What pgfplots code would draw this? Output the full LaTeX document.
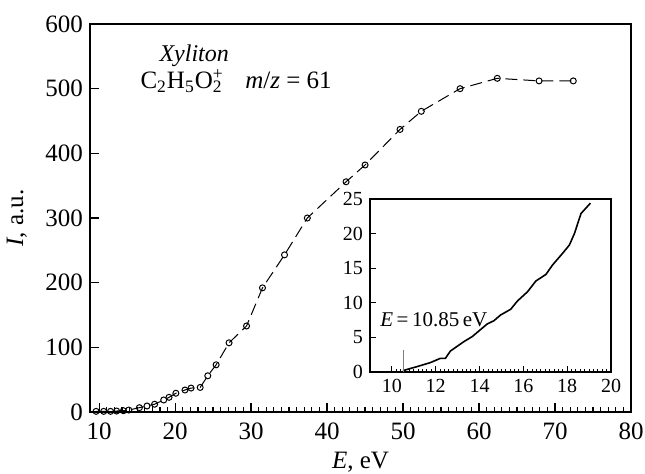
\documentclass[border=0pt]{standalone}
\usepackage{fontspec}
\setmainfont{Liberation Serif}
\usepackage{pgfplots}
\pgfplotsset{compat=1.18}

\pgfplotstableread{
x y
9.6 1
10.6 1
11.5 1
12.3 1.5
13.2 2
13.9 3
15.3 6.7
16.3 9.3
17.3 12
18.5 18.6
19.2 22.7
20.1 29
21.3 34
22.1 37
23.3 38
24.3 56
25.4 73
27.1 107
29.4 133
31.5 192
34.4 243
37.4 300
42.5 356
45.0 382
49.6 437
52.4 465
57.5 500
62.4 516
67.9 512
72.4 512
}\maindata

\pgfplotstableread{
x y
10.5 0.2
11.14 0.77
11.75 1.35
12.21 1.97
12.44 1.97
12.67 3.03
13.28 4.38
13.66 5.1
14.35 6.94
14.66 7.42
14.96 8.24
15.42 9.06
15.73 10.26
16.19 11.6
16.57 13.15
17.03 14.1
17.33 15.46
17.79 17.15
18.1 18.35
18.33 20.0
18.63 22.9
19.06 24.4
}\insetdata

\begin{document}
\begin{tikzpicture}
\begin{axis}[
    name=main,
    scale only axis,
    width=270.5pt, height=194pt,
    xmin=8.8, xmax=80, ymin=0, ymax=600,
    axis line style={line width=1.2pt},
    xtick={10,20,...,80},
    ytick={0,100,...,600},
    minor x tick num=9,
    tick align=inside,
    xtick pos=bottom, ytick pos=left,
    major tick length=4.5pt, minor tick length=2.5pt,
    every tick/.style={black, line width=0.6pt},
    tick label style={font=\fontsize{12.5}{14}\selectfont},
    /pgf/number format/assume math mode=true,
    xticklabel style={yshift=-2pt},
    xlabel={\textit{E}, eV},
    ylabel={\textit{I}, a.u.},
    label style={font=\fontsize{12.5}{14}\selectfont},
    x label style={at={(axis description cs:0.5,0)}, anchor=center, yshift=-25pt},
    y label style={at={(axis description cs:-0.135,0.5)}, anchor=center},
    clip=false,
]
\addplot[black, line width=0.5pt, dash pattern=on 6pt off 3pt,
    mark=o, mark size=1.5pt, mark options={solid, line width=0.5pt}]
    table[x=x, y=y] {\maindata};
\node[anchor=base west, inner sep=0pt, font=\fontsize{12}{14}\selectfont\itshape] at (axis cs:17.9,542) {Xyliton};
\node[anchor=base west, inner sep=0pt, font=\fontsize{12.5}{14}\selectfont] at (axis cs:15.4,500)
    {C\textsubscript{2}H\textsubscript{5}O\rlap{\textsuperscript{+}}\textsubscript{2}};
\node[anchor=base west, inner sep=0pt, font=\fontsize{12.5}{14}\selectfont] at (axis cs:29.2,500)
    {\textit{m}/\textit{z} = 61};
\end{axis}

\begin{axis}[
    at={(main.south west)}, xshift=140pt, yshift=20pt, anchor=south west,
    scale only axis,
    width=120.5pt, height=86.5pt,
    xmin=9, xmax=20, ymin=0, ymax=25,
    axis background/.style={fill=white},
    axis line style={line width=1.2pt},
    xtick={10,12,...,20},
    ytick={0,5,...,25},
    minor x tick num=9,
    tick align=inside,
    xtick pos=bottom, ytick pos=left,
    major tick length=3pt, minor tick length=1.6pt,
    every tick/.style={black, line width=0.5pt},
    tick label style={font=\fontsize{10}{12}\selectfont},
    /pgf/number format/assume math mode=true,
    clip=false,
]
\addplot[black, line width=0.8pt] table[x=x, y=y] {\insetdata};
\addplot[gray, line width=0.5pt] coordinates {(10.53,0) (10.53,3.2)};
\node[anchor=west, font=\fontsize{10.5}{12}\selectfont] at (axis cs:9.15,7.5)
    {\textit{E}\,=\,10.85\,eV};
\end{axis}

\pgfresetboundingbox
\useasboundingbox ([shift={(-45pt,-31pt)}]main.south west) rectangle ([shift={(7pt,12pt)}]main.north east);
\end{tikzpicture}
\end{document}
